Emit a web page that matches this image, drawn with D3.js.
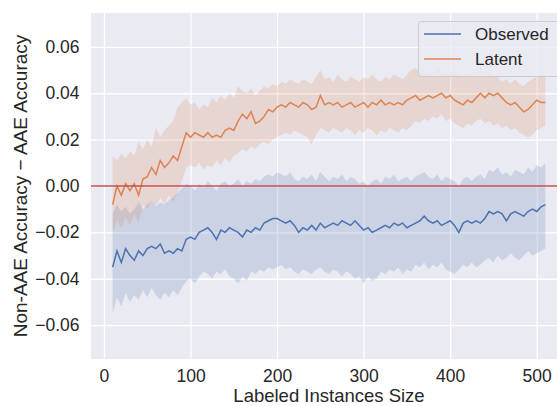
<!DOCTYPE html>
<html>
<head>
<meta charset="utf-8">
<script src="https://cdn.jsdelivr.net/npm/d3@7"></script>
<style>
  body { margin: 0; background: #fff; }
  svg { display: block; overflow: hidden; }
  text { font-family: "Liberation Sans", Arial, sans-serif; fill: #262626; }
</style>
</head>
<body>
<div id="chart"></div>
<script>
// labeled instance sizes, every 5 from 10 to 510
var sizes = d3.range(10, 515, 5);

// Latent: mean and band edges
var latentMean = [
  -0.008, 0.000, -0.004, 0.001, -0.002, 0.001, -0.004, 0.003, 0.004, 0.008,
  0.005, 0.011, 0.008, 0.010, 0.013, 0.011, 0.017, 0.023, 0.021, 0.023,
  0.022, 0.021, 0.023, 0.021, 0.022, 0.021, 0.024, 0.025, 0.024, 0.028,
  0.031, 0.029, 0.032, 0.027, 0.028, 0.030, 0.033, 0.032, 0.034, 0.035,
  0.034, 0.036, 0.035, 0.034, 0.036, 0.035, 0.033, 0.034, 0.039, 0.035,
  0.036, 0.035, 0.036, 0.034, 0.035, 0.036, 0.034, 0.035, 0.036, 0.034,
  0.036, 0.035, 0.037, 0.035, 0.036, 0.035, 0.036, 0.035, 0.037, 0.038,
  0.039, 0.037, 0.038, 0.039, 0.038, 0.039, 0.040, 0.038, 0.039, 0.037,
  0.036, 0.035, 0.037, 0.036, 0.038, 0.040, 0.038, 0.040, 0.039, 0.040,
  0.038, 0.036, 0.035, 0.036, 0.034, 0.032, 0.033, 0.035, 0.037, 0.036,
  0.036
];
var latentHigh = [
  0.013, 0.011, 0.014, 0.012, 0.015, 0.013, 0.019, 0.016, 0.020, 0.017,
  0.025, 0.021, 0.024, 0.026, 0.028, 0.034, 0.036, 0.038, 0.035, 0.036,
  0.033, 0.035, 0.034, 0.038, 0.036, 0.039, 0.037, 0.040, 0.038, 0.043,
  0.041, 0.040, 0.042, 0.039, 0.041, 0.043, 0.042, 0.044, 0.043, 0.045,
  0.044, 0.046, 0.045, 0.044, 0.046, 0.045, 0.044, 0.047, 0.050, 0.046,
  0.047, 0.045, 0.048, 0.046, 0.045, 0.047, 0.046, 0.045, 0.047, 0.046,
  0.048, 0.046, 0.045, 0.047, 0.046, 0.048, 0.047, 0.046, 0.048, 0.050,
  0.051, 0.049, 0.050, 0.048, 0.049, 0.051, 0.050, 0.048, 0.049, 0.050,
  0.048, 0.047, 0.049, 0.048, 0.050, 0.051, 0.049, 0.050, 0.048, 0.047,
  0.045, 0.046, 0.044, 0.046, 0.044, 0.043, 0.045, 0.046, 0.047, 0.048,
  0.048
];
var latentLow = [
  -0.020, -0.015, -0.018, -0.013, -0.017, -0.012, -0.016, -0.008, -0.010, -0.006,
  -0.009, -0.005, -0.008, -0.004, -0.007, -0.003, 0.002, 0.008, 0.009, 0.008,
  0.010, 0.007, 0.009, 0.008, 0.011, 0.009, 0.012, 0.010, 0.013, 0.014,
  0.016, 0.015, 0.017, 0.016, 0.018, 0.019, 0.018, 0.020, 0.021, 0.022,
  0.023, 0.022, 0.024, 0.023, 0.022, 0.021, 0.018, 0.022, 0.025, 0.024,
  0.023, 0.025, 0.024, 0.023, 0.025, 0.024, 0.022, 0.024, 0.023, 0.025,
  0.024, 0.022, 0.024, 0.023, 0.025, 0.024, 0.023, 0.025, 0.024, 0.026,
  0.028, 0.027, 0.029, 0.028, 0.030, 0.029, 0.031, 0.028, 0.029, 0.027,
  0.026, 0.025, 0.027, 0.026, 0.028, 0.029, 0.027, 0.028, 0.026, 0.027,
  0.025, 0.026, 0.024, 0.025, 0.023, 0.022, 0.021, 0.022, 0.024, 0.025,
  0.026
];

// Observed: mean and band edges
var observedMean = [
  -0.035, -0.028, -0.033, -0.027, -0.030, -0.032, -0.028, -0.030, -0.027, -0.026,
  -0.027, -0.025, -0.029, -0.028, -0.029, -0.027, -0.028, -0.023, -0.022, -0.023,
  -0.020, -0.019, -0.018, -0.020, -0.023, -0.019, -0.020, -0.018, -0.019, -0.020,
  -0.022, -0.019, -0.020, -0.018, -0.019, -0.016, -0.015, -0.014, -0.014, -0.015,
  -0.016, -0.015, -0.017, -0.020, -0.018, -0.019, -0.017, -0.019, -0.016, -0.018,
  -0.017, -0.016, -0.017, -0.015, -0.016, -0.017, -0.015, -0.017, -0.019, -0.018,
  -0.020, -0.019, -0.018, -0.017, -0.018, -0.016, -0.017, -0.016, -0.018, -0.017,
  -0.016, -0.015, -0.013, -0.015, -0.016, -0.015, -0.017, -0.016, -0.015, -0.017,
  -0.020, -0.016, -0.015, -0.016, -0.015, -0.016, -0.014, -0.011, -0.012, -0.011,
  -0.012, -0.015, -0.012, -0.011, -0.012, -0.013, -0.011, -0.010, -0.011, -0.009,
  -0.008
];
var observedHigh = [
  -0.012, -0.008, -0.011, -0.009, -0.012, -0.010, -0.007, -0.010, -0.008, -0.006,
  -0.009, -0.007, -0.008, -0.006, -0.005, -0.003, -0.001, 0.001, 0.000, -0.002,
  0.001, -0.001, 0.002, 0.000, -0.002, 0.001, 0.002, 0.000, 0.001, 0.003,
  0.000, 0.002, 0.001, 0.003, 0.002, 0.004, 0.005, 0.004, 0.006, 0.005,
  0.004, 0.006, 0.003, 0.002, 0.004, 0.003, 0.005, 0.002, 0.006, 0.004,
  0.002, 0.004, 0.003, 0.005, 0.002, 0.004, 0.003, 0.001, 0.002, 0.000,
  0.002, 0.003, 0.001, 0.004, 0.003, 0.005, 0.002, 0.003, 0.004, 0.002,
  0.004, 0.005, 0.006, 0.004, 0.003, 0.005, 0.002, 0.004, 0.003, 0.002,
  0.000, 0.003, 0.004, 0.002, 0.004, 0.005, 0.003, 0.007, 0.006, 0.008,
  0.005, 0.006, 0.004, 0.007, 0.006, 0.005, 0.008, 0.006, 0.009, 0.008,
  0.010
];
var observedLow = [
  -0.055, -0.048, -0.052, -0.046, -0.050, -0.047, -0.049, -0.045, -0.048, -0.044,
  -0.047, -0.049, -0.046, -0.048, -0.045, -0.047, -0.044, -0.041, -0.040, -0.042,
  -0.039, -0.037, -0.038, -0.040, -0.037, -0.038, -0.036, -0.039, -0.040, -0.042,
  -0.039, -0.041, -0.037, -0.038, -0.036, -0.037, -0.035, -0.036, -0.035, -0.034,
  -0.036, -0.035, -0.037, -0.038, -0.036, -0.037, -0.038, -0.036, -0.035, -0.037,
  -0.038, -0.036, -0.037, -0.039, -0.037, -0.038, -0.040, -0.039, -0.042, -0.039,
  -0.041, -0.040, -0.037, -0.038, -0.036, -0.037, -0.035, -0.038, -0.036, -0.037,
  -0.034, -0.035, -0.033, -0.036, -0.034, -0.035, -0.033, -0.036, -0.037, -0.038,
  -0.036, -0.034, -0.035, -0.033, -0.035, -0.034, -0.032, -0.031, -0.033, -0.030,
  -0.032, -0.031, -0.029, -0.031, -0.032, -0.030, -0.028, -0.030, -0.029, -0.028,
  -0.027
];

var xTicks = [0, 100, 200, 300, 400, 500];
var yTicks = [-0.06, -0.04, -0.02, 0.00, 0.02, 0.04, 0.06];
var seriesNames = ["Observed", "Latent"];
var seriesColors = ["#4C72B0", "#DD8452"];

var width = 557, height = 406;
var margin = {top: 13, right: -10, bottom: 47, left: 91};   // plot runs past the right edge

var svg = d3.select("#chart").append("svg")
  .attr("width", width)
  .attr("height", height);

var x = d3.scaleLinear()
  .domain([-15, 535])
  .range([margin.left, width - margin.right]);

var y = d3.scaleLinear()
  .domain([-0.0746, 0.0746])
  .range([height - margin.bottom, margin.top]);

// background
svg.append("rect")
  .attr("x", margin.left)
  .attr("y", margin.top)
  .attr("width", width - margin.right - margin.left)
  .attr("height", height - margin.bottom - margin.top)
  .attr("fill", "#EAEAF2");

// grid
svg.append("g")
  .attr("transform", "translate(0," + (height - margin.bottom) + ")")
  .call(d3.axisBottom(x).tickValues(xTicks).tickSize(-(height - margin.bottom - margin.top)).tickFormat(""))
  .call(function(g){ g.select(".domain").remove(); })
  .selectAll("line").attr("stroke", "#fff").attr("stroke-width", 1.3);

svg.append("g")
  .attr("transform", "translate(" + margin.left + ",0)")
  .call(d3.axisLeft(y).tickValues(yTicks).tickSize(-(width - margin.right - margin.left)).tickFormat(""))
  .call(function(g){ g.select(".domain").remove(); })
  .selectAll("line").attr("stroke", "#fff").attr("stroke-width", 1.3);

// tick labels
var fmt = d3.format(".2f");
svg.append("g")
  .attr("transform", "translate(0," + (height - margin.bottom) + ")")
  .call(d3.axisBottom(x).tickValues(xTicks).tickSize(0).tickPadding(11).tickFormat(d3.format("d")))
  .call(function(g){ g.select(".domain").remove(); })
  .selectAll("text").style("font-size", "17.5px").attr("fill", "#262626");

svg.append("g")
  .attr("transform", "translate(" + margin.left + ",0)")
  .call(d3.axisLeft(y).tickValues(yTicks).tickSize(0).tickPadding(11.5)
    .tickFormat(function(d){ return fmt(d).replace("-", "\u2212"); }))
  .call(function(g){ g.select(".domain").remove(); })
  .selectAll("text").style("font-size", "17.5px").attr("fill", "#262626");

// axis labels
svg.append("text")
  .attr("x", (margin.left + width - margin.right) / 2)
  .attr("y", 402)
  .attr("text-anchor", "middle")
  .style("font-size", "18.5px")
  .text("Labeled Instances Size");

svg.append("text")
  .attr("transform", "translate(27," + ((margin.top + height - margin.bottom) / 2) + ") rotate(-90)")
  .attr("text-anchor", "middle")
  .style("font-size", "19px")
  .text("Non-AAE Accuracy \u2212 AAE Accuracy");

// series
var series = [
  {mean: observedMean, low: observedLow, high: observedHigh},
  {mean: latentMean, low: latentLow, high: latentHigh}
];

var area = d3.area()
  .x(function(d){ return x(d[0]); })
  .y0(function(d){ return y(d[1]); })
  .y1(function(d){ return y(d[2]); });

var line = d3.line()
  .x(function(d){ return x(d[0]); })
  .y(function(d){ return y(d[1]); });

series.forEach(function(s, k){
  var bandData = sizes.map(function(v, i){ return [v, s.low[i], s.high[i]]; });
  var lineData = sizes.map(function(v, i){ return [v, s.mean[i]]; });
  svg.append("path")
    .attr("d", area(bandData))
    .attr("fill", seriesColors[k])
    .attr("fill-opacity", 0.2);
  svg.append("path")
    .attr("d", line(lineData))
    .attr("fill", "none")
    .attr("stroke", seriesColors[k])
    .attr("stroke-width", 1.5);
});

// zero line
svg.append("line")
  .attr("x1", margin.left)
  .attr("x2", width - margin.right)
  .attr("y1", y(0))
  .attr("y2", y(0))
  .attr("stroke", "#C44E52")
  .attr("stroke-width", 1.5);

// legend
var legend = svg.append("g");
legend.append("rect")
  .attr("x", 418.5)
  .attr("y", 21.5)
  .attr("width", 150)
  .attr("height", 55)
  .attr("rx", 3)
  .attr("fill", "#EAEAF2")
  .attr("fill-opacity", 0.8)
  .attr("stroke", "#CCCCCC")
  .attr("stroke-width", 1);

seriesNames.forEach(function(name, k){
  var ly = 34 + k * 25;
  legend.append("line")
    .attr("x1", 424).attr("x2", 461)
    .attr("y1", ly).attr("y2", ly)
    .attr("stroke", seriesColors[k])
    .attr("stroke-width", 1.5);
  legend.append("text")
    .attr("x", 475)
    .attr("y", ly + 6)
    .style("font-size", "17px")
    .text(name);
});
</script>
</body>
</html>
